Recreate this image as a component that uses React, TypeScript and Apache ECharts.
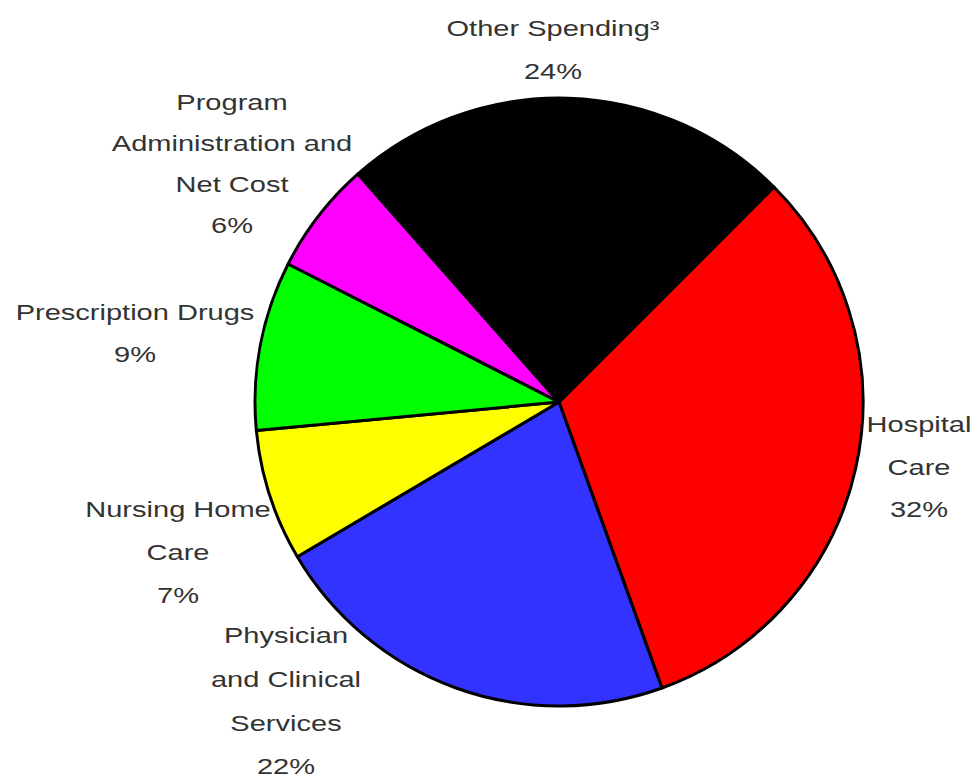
import React, { useEffect, useRef } from "react";
import * as echarts from "echarts";

const categories = [
  "Hospital Care",
  "Physician and Clinical Services",
  "Nursing Home Care",
  "Prescription Drugs",
  "Program Administration and Net Cost",
  "Other Spending³",
];
const values = [32, 22, 7, 9, 6, 24];
const labelLines = [
  ["Hospital", "Care"],
  ["Physician", "and Clinical", "Services"],
  ["Nursing Home", "Care"],
  ["Prescription Drugs"],
  ["Program", "Administration and", "Net Cost"],
  ["Other Spending³"],
];
const colors = ["#ff0000", "#3333ff", "#ffff00", "#00ff00", "#ff00ff", "#000000"];

// label layout: [centerX, blockCenterY, lineHeight]
const labelLayout = [
  [919, 467, 42.5],
  [286, 701, 43.7],
  [178, 552, 43],
  [135, 333, 42],
  [232, 164, 41],
  [553, 50, 43],
];

export default function App() {
  const ref = useRef<HTMLDivElement>(null);
  useEffect(() => {
    if (!ref.current) return;
    const chart = echarts.init(ref.current, null, { renderer: "svg" });
    const graphics = categories.map((c, i) => {
      const [x, y, lh] = labelLayout[i];
      const text = [...labelLines[i], values[i] + "%"].join("\n");
      return {
        type: "text",
        x,
        y,
        scaleX: 1.32,
        style: {
          text,
          fill: "#333333",
          font: '22px "Liberation Sans", Arial, sans-serif',
          lineHeight: lh,
          textAlign: "center",
          textVerticalAlign: "middle",
        },
      };
    });
    chart.setOption({
      animation: false,
      backgroundColor: "#ffffff",
      graphic: graphics,
      series: [
        {
          type: "pie",
          center: [559, 402],
          radius: 304,
          startAngle: 45,
          clockwise: true,
          label: { show: false },
          labelLine: { show: false },
          itemStyle: { borderColor: "#000000", borderWidth: 3 },
          emphasis: { disabled: true },
          data: categories.map((name, i) => ({
            name,
            value: values[i],
            itemStyle: { color: colors[i] },
          })),
        },
      ],
    });
    return () => chart.dispose();
  }, []);
  return (
    <div
      ref={ref}
      style={{ position: "fixed", left: 0, top: 0, width: 978, height: 778 }}
    />
  );
}
